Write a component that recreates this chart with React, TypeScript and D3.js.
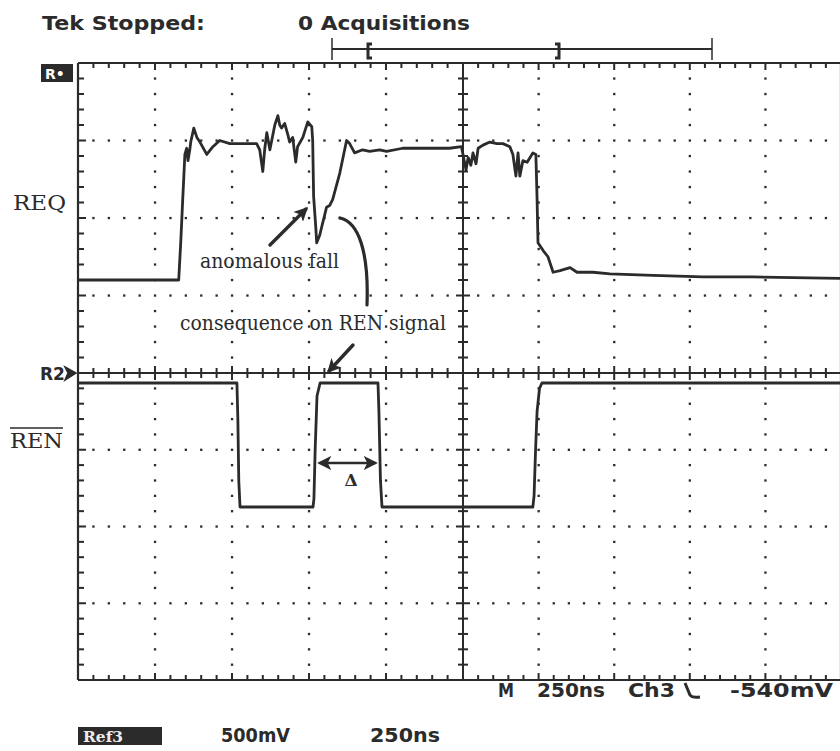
import React from "react";
import * as d3 from "d3";

// ---- Data (time in ns, voltage in mV, 500 mV/div, 250 ns/div) ----
const reqTimes = [0, 327, 334, 340, 347, 353, 357, 363, 366, 376, 386, 396, 418, 438, 460, 493, 548, 580, 590, 600, 606, 613, 623, 629, 639, 649, 655, 661, 671, 681, 687, 697, 707, 713, 730, 746, 759, 762, 765, 772, 775, 785, 791, 801, 807, 817, 827, 850, 872, 882, 898, 924, 947, 979, 1002, 1054, 1119, 1206, 1245, 1250, 1260, 1267, 1276, 1283, 1293, 1300, 1316, 1339, 1362, 1382, 1405, 1415, 1425, 1432, 1438, 1448, 1462, 1481, 1491, 1495, 1498, 1515, 1531, 1548, 1571, 1604, 1627, 1680, 1736, 1878, 2044, 2209, 2500];
const reqValues = [600, 600, 860, 1120, 1410, 1450, 1370, 1440, 1490, 1580, 1520, 1490, 1410, 1460, 1500, 1480, 1480, 1480, 1440, 1300, 1440, 1550, 1440, 1500, 1600, 1660, 1600, 1580, 1610, 1540, 1490, 1520, 1360, 1460, 1520, 1620, 1590, 1500, 1140, 940, 840, 890, 940, 1020, 1070, 1080, 1120, 1290, 1500, 1480, 1420, 1440, 1430, 1440, 1430, 1450, 1450, 1450, 1460, 1410, 1310, 1390, 1340, 1420, 1350, 1450, 1470, 1490, 1480, 1480, 1460, 1410, 1270, 1420, 1270, 1370, 1360, 1420, 1410, 1120, 840, 790, 750, 650, 660, 680, 650, 650, 640, 630, 620, 620, 610];

const renTimes = [0, 516, 519, 522, 526, 763, 766, 770, 776, 786, 974, 977, 982, 987, 1481, 1485, 1490, 1495, 1503, 1511, 2500];
const renValues = [-65, -65, -300, -700, -873, -873, -820, -500, -150, -65, -65, -250, -700, -873, -873, -800, -500, -250, -100, -65, -65];

const topTexts = ["Tek Stopped:", "0 Acquisitions"];
const bottomTexts = ["M", "250ns", "Ch3", "-540mV"];
const refTexts = ["Ref3", "500mV", "250ns"];

const INK = "#2b2b2b";

export default function App() {
  const W = 840, H = 751;
  const x = d3.scaleLinear().domain([0, 1250, 2500]).range([78, 463, 841]);
  const y = d3.scaleLinear().domain([-2000, 0, 2000]).range([680, 373, 63]);

  const xMajor = d3.range(0, 2501, 250);
  const xMinor = d3.range(0, 2501, 50);
  const yMajor = d3.range(-2000, 2001, 500);
  const yMinor = d3.range(-2000, 2001, 100);

  const lineGen = d3.line<[number, number]>().x(d => x(d[0])).y(d => y(d[1]));
  const reqPath = lineGen(reqTimes.map((t, i) => [t, reqValues[i]]))!;
  const renPath = lineGen(renTimes.map((t, i) => [t, renValues[i]]))!;

  const dotRects: { k: string; x: number; y: number; w: number; h: number }[] = [];
  xMajor.filter(t => t !== 0 && t !== 1250 && t !== 2500).forEach(t => {
    yMinor.filter(v => Math.abs(v) !== 2000 && v !== 0).forEach(v =>
      dotRects.push({ k: `a${t}_${v}`, x: x(t) - 1.1, y: y(v) - 1.1, w: 2.3, h: 2.3 }));
  });
  yMajor.filter(v => Math.abs(v) !== 2000 && v !== 0).forEach(v => {
    xMinor.filter(t => t !== 0 && t !== 1250 && t % 250 !== 0).forEach(t =>
      dotRects.push({ k: `b${t}_${v}`, x: x(t) - 1.1, y: y(v) - 1.1, w: 2.3, h: 2.3 }));
  });

  const tickRects: { k: string; x: number; y: number; w: number; h: number }[] = [];
  for (const t of xMinor) {
    const major = t % 250 === 0;
    const L = major ? 7 : 5;
    const px = x(t) - 1;
    tickRects.push({ k: `tt${t}`, x: px, y: y(2000), w: 2, h: L });
    tickRects.push({ k: `tb${t}`, x: px, y: y(-2000) - L, w: 2, h: L });
    const c = major ? 7 : 5;
    tickRects.push({ k: `tc${t}`, x: px, y: y(0) - c, w: 2, h: 2 * c });
  }
  for (const v of yMinor) {
    const major = v % 500 === 0;
    const py = y(v) - 1;
    tickRects.push({ k: `tl${v}`, x: x(0), y: py, w: major ? 8 : 6, h: 2 });
    const c = major ? 7 : 5;
    tickRects.push({ k: `tv${v}`, x: x(1250) - c, y: py, w: 2 * c, h: 2 });
  }

  return (
    <svg width={W} height={H} style={{ position: "absolute", left: 0, top: 0, background: "#fff", display: "block" }}>
      <defs>
        <marker id="ah" viewBox="0 0 10 10" refX="8" refY="5" markerWidth="14" markerHeight="14" markerUnits="userSpaceOnUse" orient="auto-start-reverse">
          <path d="M0,0 L10,5 L0,10 L2.5,5 z" fill={INK} />
        </marker>
      </defs>
      <rect x={0} y={0} width={W} height={H} fill="#fff" />

      {/* top status */}
      <g fontFamily="DejaVu Sans, Verdana, sans-serif" fontWeight="bold" fill={INK} fontSize={19}>
        <text x={42} y={30} textLength={163} lengthAdjust="spacingAndGlyphs">{topTexts[0]}</text>
        <text x={298} y={30} textLength={172} lengthAdjust="spacingAndGlyphs">{topTexts[1]}</text>
      </g>
      {/* record bar */}
      <g stroke={INK} fill="none">
        <line x1={332} x2={712} y1={49} y2={49} strokeWidth={2} />
        <line x1={332} x2={332} y1={38} y2={60} strokeWidth={1.5} />
        <line x1={712} x2={712} y1={38} y2={60} strokeWidth={1.5} />
        <path d="M372,44 L368,44 L368,58 L372,58" strokeWidth={3} />
        <path d="M555,44 L559,44 L559,58 L555,58" strokeWidth={3} />
      </g>

      {/* graticule */}
      <g fill={INK}>
        {dotRects.map(r => <rect key={r.k} x={r.x} y={r.y} width={r.w} height={r.h} />)}
      </g>
      <g fill={INK}>
        {tickRects.map(r => <rect key={r.k} x={r.x} y={r.y} width={r.w} height={r.h} />)}
      </g>
      <g stroke={INK} fill="none">
        <line x1={x(0)} x2={x(2500)} y1={y(2000)} y2={y(2000)} strokeWidth={2.2} />
        <line x1={x(0)} x2={x(2500)} y1={y(-2000)} y2={y(-2000)} strokeWidth={2.2} />
        <line x1={x(0)} x2={x(0)} y1={y(2000)} y2={y(-2000)} strokeWidth={2.2} />
        <line x1={x(2500)} x2={x(2500)} y1={y(2000)} y2={y(-2000)} strokeWidth={2.2} />
        <line x1={x(0)} x2={x(2500)} y1={y(0)} y2={y(0)} strokeWidth={2.2} />
        <line x1={x(1250)} x2={x(1250)} y1={y(2000)} y2={y(-2000)} strokeWidth={2} />
      </g>

      {/* traces */}
      <path d={reqPath} fill="none" stroke={INK} strokeWidth={2.8} strokeLinejoin="round" />
      <path d={renPath} fill="none" stroke={INK} strokeWidth={2.8} strokeLinejoin="round" />

      {/* channel labels */}
      <rect x={41} y={64} width={32} height={18} fill={INK} />
      <text x={45} y={79} fill="#fff" fontFamily="DejaVu Sans" fontWeight="bold" fontSize={14}>R•</text>
      <text x={40} y={380} fill={INK} fontFamily="DejaVu Sans" fontWeight="bold" fontSize={17}>R2</text>
      <path d="M65,367 L76,373 L65,380 L68,373 z" fill={INK} stroke={INK} strokeWidth={1.5} />
      <g fontFamily="DejaVu Serif, Liberation Serif, serif" fill={INK}>
        <text x={13} y={210} fontSize={21} textLength={53} lengthAdjust="spacingAndGlyphs">REQ</text>
        <text x={10} y={448} fontSize={21} textLength={53} lengthAdjust="spacingAndGlyphs">REN</text>
        <line x1={10} x2={63} y1={428} y2={428} stroke={INK} strokeWidth={1.6} />
        <text x={200} y={268} fontSize={20} textLength={139} lengthAdjust="spacingAndGlyphs">anomalous fall</text>
        <text x={180} y={330} fontSize={20} textLength={266} lengthAdjust="spacingAndGlyphs">consequence on REN signal</text>
        <text x={351} y={486} fontSize={17} fontWeight="bold" textAnchor="middle">Δ</text>
      </g>

      {/* annotation arrows */}
      <g stroke={INK} fill="none" strokeLinecap="round">
        <line x1={270} y1={245} x2={306} y2={209} strokeWidth={3.4} markerEnd="url(#ah)" />
        <path d="M340,218 C358,222 369,250 367,305" strokeWidth={3.2} />
        <line x1={353} y1={345} x2={329} y2={371} strokeWidth={3.4} markerEnd="url(#ah)" />
        <line x1={320} y1={463} x2={375} y2={463} strokeWidth={2.6} markerStart="url(#ah)" markerEnd="url(#ah)" />
      </g>

      {/* bottom readouts */}
      <g fontFamily="DejaVu Sans, Verdana, sans-serif" fontWeight="bold" fill={INK} fontSize={19}>
        <text x={498} y={697} textLength={16} lengthAdjust="spacingAndGlyphs">{bottomTexts[0]}</text>
        <text x={537} y={697} textLength={68} lengthAdjust="spacingAndGlyphs">{bottomTexts[1]}</text>
        <text x={628} y={697} textLength={47} lengthAdjust="spacingAndGlyphs">{bottomTexts[2]}</text>
        <text x={730} y={697} textLength={103} lengthAdjust="spacingAndGlyphs">{bottomTexts[3]}</text>
        <text x={221} y={742} textLength={69} lengthAdjust="spacingAndGlyphs">{refTexts[1]}</text>
        <text x={370} y={742} textLength={70} lengthAdjust="spacingAndGlyphs">{refTexts[2]}</text>
      </g>
      <path d="M685,683 L690,695 Q692,698 700,697" stroke={INK} strokeWidth={3} fill="none" />
      <rect x={78} y={727} width={84} height={18} fill={INK} />
      <text x={83} y={742} fill="#eee" fontFamily="DejaVu Serif, serif" fontWeight="bold" fontSize={15} textLength={40} lengthAdjust="spacingAndGlyphs">{refTexts[0]}</text>
    </svg>
  );
}
